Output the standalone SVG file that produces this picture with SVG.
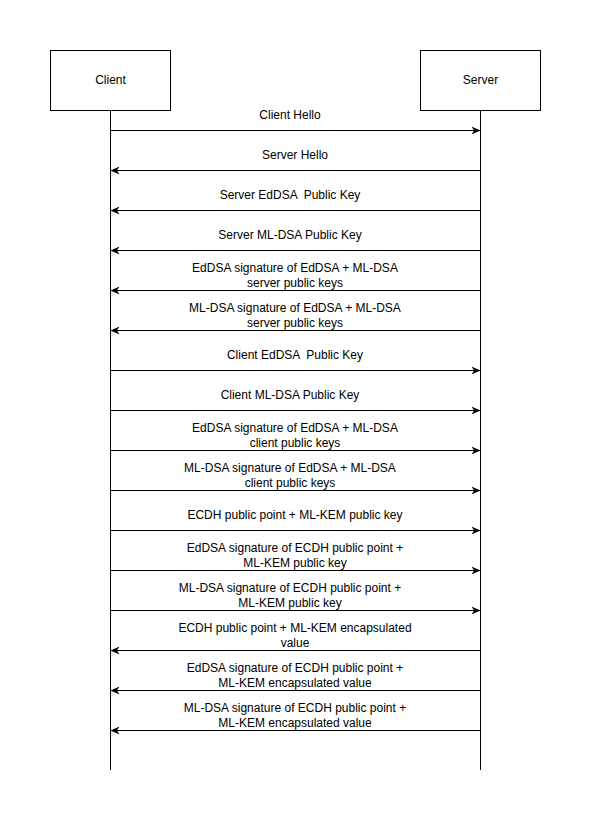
<svg xmlns="http://www.w3.org/2000/svg" width="591" height="822" viewBox="0 0 591 822">
<style>
.box{fill:#fff;stroke:#000;stroke-width:1}
.life{stroke:#000;stroke-width:1;fill:none}
.msg{stroke:#000;stroke-width:1;fill:none;marker-end:url(#arr)}
text{font-family:"Liberation Sans",Arial,sans-serif;font-size:12px;fill:#000;text-anchor:middle;white-space:pre}
</style>
<defs>
<marker id="arr" viewBox="0 0 10 8" refX="9" refY="4" markerWidth="10" markerHeight="8" markerUnits="userSpaceOnUse" orient="auto">
<path d="M0,0 L9,4 L0,8 L2.5,4 Z" fill="#000"/>
</marker>
</defs>
<rect width="591" height="822" fill="#fff"/>
<g id="client">
<rect class="box" x="50.5" y="50.5" width="120" height="60"/>
<text x="110.5" y="84">Client</text>
</g>
<g id="server">
<rect class="box" x="420.5" y="50.5" width="120" height="60"/>
<text x="480.5" y="84">Server</text>
</g>
<g id="lifelines">
<line class="life" x1="110.5" y1="110.5" x2="110.5" y2="770"/>
<line class="life" x1="480.5" y1="110.5" x2="480.5" y2="770"/>
</g>
<g id="connectors">
<line class="msg" x1="110.5" y1="130.5" x2="480.5" y2="130.5"/>
<line class="msg" x1="480.5" y1="170.5" x2="110.5" y2="170.5"/>
<line class="msg" x1="480.5" y1="210.5" x2="110.5" y2="210.5"/>
<line class="msg" x1="480.5" y1="250.5" x2="110.5" y2="250.5"/>
<line class="msg" x1="480.5" y1="290.5" x2="110.5" y2="290.5"/>
<line class="msg" x1="480.5" y1="330.5" x2="110.5" y2="330.5"/>
<line class="msg" x1="110.5" y1="370.5" x2="480.5" y2="370.5"/>
<line class="msg" x1="110.5" y1="410.5" x2="480.5" y2="410.5"/>
<line class="msg" x1="110.5" y1="450.5" x2="480.5" y2="450.5"/>
<line class="msg" x1="110.5" y1="490.5" x2="480.5" y2="490.5"/>
<line class="msg" x1="110.5" y1="530.5" x2="480.5" y2="530.5"/>
<line class="msg" x1="110.5" y1="570.5" x2="480.5" y2="570.5"/>
<line class="msg" x1="110.5" y1="610.5" x2="480.5" y2="610.5"/>
<line class="msg" x1="480.5" y1="650.5" x2="110.5" y2="650.5"/>
<line class="msg" x1="480.5" y1="690.5" x2="110.5" y2="690.5"/>
<line class="msg" x1="480.5" y1="730.5" x2="110.5" y2="730.5"/>
</g>
<g id="labels">
<text x="290" y="119">Client Hello</text>
<text x="295" y="159">Server Hello</text>
<text x="290" y="199">Server EdDSA  Public Key</text>
<text x="290" y="239">Server ML-DSA Public Key</text>
<text x="295" y="272">EdDSA signature of EdDSA + ML-DSA</text>
<text x="295" y="287">server public keys</text>
<text x="295" y="312">ML-DSA signature of EdDSA + ML-DSA</text>
<text x="295" y="327">server public keys</text>
<text x="295" y="359">Client EdDSA  Public Key</text>
<text x="290" y="399">Client ML-DSA Public Key</text>
<text x="295" y="432">EdDSA signature of EdDSA + ML-DSA</text>
<text x="295" y="447">client public keys</text>
<text x="290" y="472">ML-DSA signature of EdDSA + ML-DSA</text>
<text x="290" y="487">client public keys</text>
<text x="295" y="519">ECDH public point + ML-KEM public key</text>
<text x="295" y="552">EdDSA signature of ECDH public point +</text>
<text x="295" y="567">ML-KEM public key</text>
<text x="290" y="592">ML-DSA signature of ECDH public point +</text>
<text x="290" y="607">ML-KEM public key</text>
<text x="295" y="632">ECDH public point + ML-KEM encapsulated</text>
<text x="295" y="647">value</text>
<text x="295" y="672">EdDSA signature of ECDH public point +</text>
<text x="295" y="687">ML-KEM encapsulated value</text>
<text x="295" y="712">ML-DSA signature of ECDH public point +</text>
<text x="295" y="727">ML-KEM encapsulated value</text>
</g>
</svg>
